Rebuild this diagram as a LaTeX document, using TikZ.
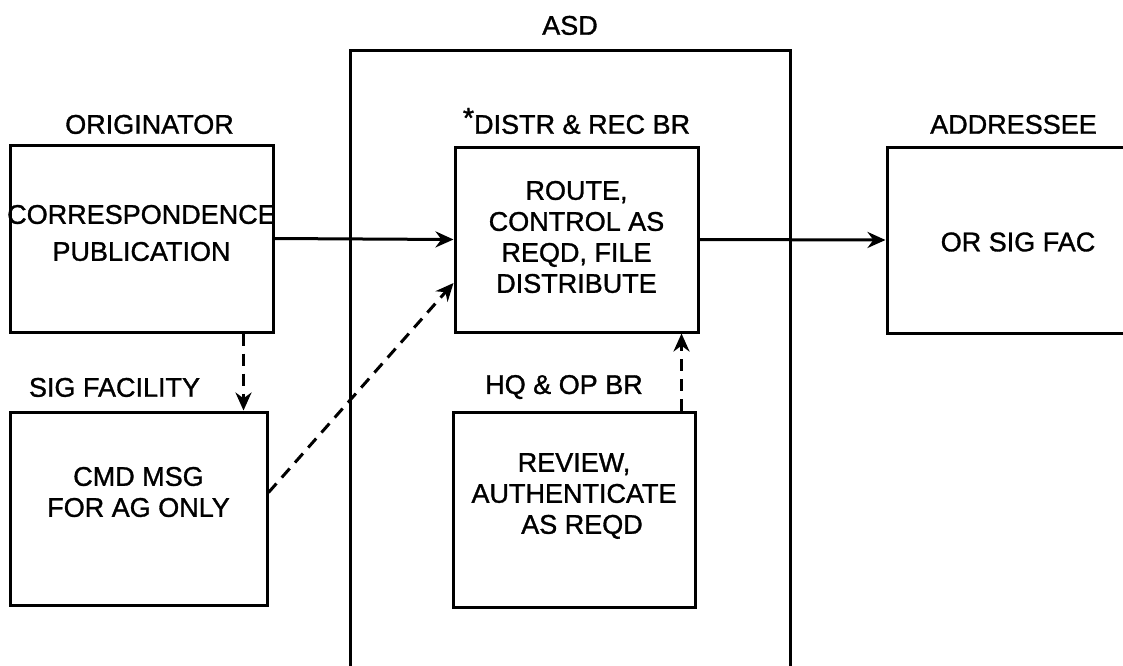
\documentclass[tikz,border=0pt]{standalone}
\usepackage{fontspec}
\setmainfont{Liberation Sans}[BoldFont={Liberation Sans},BoldFeatures={FakeBold=1.2}]
\usetikzlibrary{arrows.meta,positioning}

\begin{document}
\begin{tikzpicture}[x=0.5pt,y=-0.5pt,>={Stealth[length=9pt,width=8pt]},
        line width=1.5pt,font=\fontsize{13.5}{15.5}\selectfont\bfseries,
        box/.style={draw,rectangle,inner sep=0pt},
        txt/.style={align=center,inner sep=0pt},
        lbl/.style={inner sep=1pt},
        flow/.style={dash pattern=on 6pt off 4pt}]
            \useasboundingbox (0,0) rectangle (1123,665);
            \node[box,minimum width=220pt,minimum height=325pt] (asd) at (570,375) {};
            \node[box,minimum width=131.5pt,minimum height=93.5pt] (orig) at (141.5,238.5) {};
            \node[box,minimum width=128.5pt,minimum height=96.5pt] (sig) at (138.5,508.5) {};
            \node[box,minimum width=121.5pt,minimum height=92.5pt] (distr) at (576.5,239.5) {};
            \node[box,minimum width=121pt,minimum height=97.5pt] (hq) at (574,509.5) {};
            \node[box,minimum width=126.5pt,minimum height=93pt] (addr) at (1013.5,240) {};
            \node[lbl,above=5pt of asd] (asdlbl) {ASD};
            \node[lbl,above=3pt of orig,xshift=4pt] (origlbl) {ORIGINATOR};
            \node[lbl,above=5pt of sig,xshift=-12pt] (siglbl) {SIG FACILITY};
            \node[lbl,above=4pt of distr] (distrlbl) {\raisebox{3pt}{\Large *}DISTR \& REC BR};
            \node[lbl,above=4pt of hq,xshift=-5pt] (hqlbl) {HQ \& OP BR};
            \node[lbl,above=4pt of addr] (addrlbl) {ADDRESSEE};
            \node[txt] (origtxt) at (141.5,233) {CORRESPONDENCE\\[3pt]PUBLICATION};
            \node[txt] (sigtxt) at (138.5,492) {CMD MSG\\FOR AG ONLY};
            \node[txt] (distrtxt) at (576.5,237) {ROUTE,\\CONTROL AS\\REQD, FILE\\DISTRIBUTE};
            \node[txt] (hqtxt) at (574,496) {REVIEW,\\AUTHENTICATE\\\hspace{8pt}AS REQD};
            \node[txt] (addrtxt) at (1018,242) {OR SIG FAC};
            \path[->]
            (orig.east) edge (distr.west)
            (distr.east) edge (addr.west)
            ;
            \path[->,flow]
            ([xshift=-15.5pt]orig.south east) edge ([xshift=-15.5pt]orig.south east |- sig.north)
            ([yshift=8pt]sig.east) edge ([yshift=-21.75pt]distr.west)
            ([xshift=-7.5pt]hq.north east) edge ([xshift=-7.5pt]hq.north east |- distr.south)
            ;
        \end{tikzpicture}
\end{document}
